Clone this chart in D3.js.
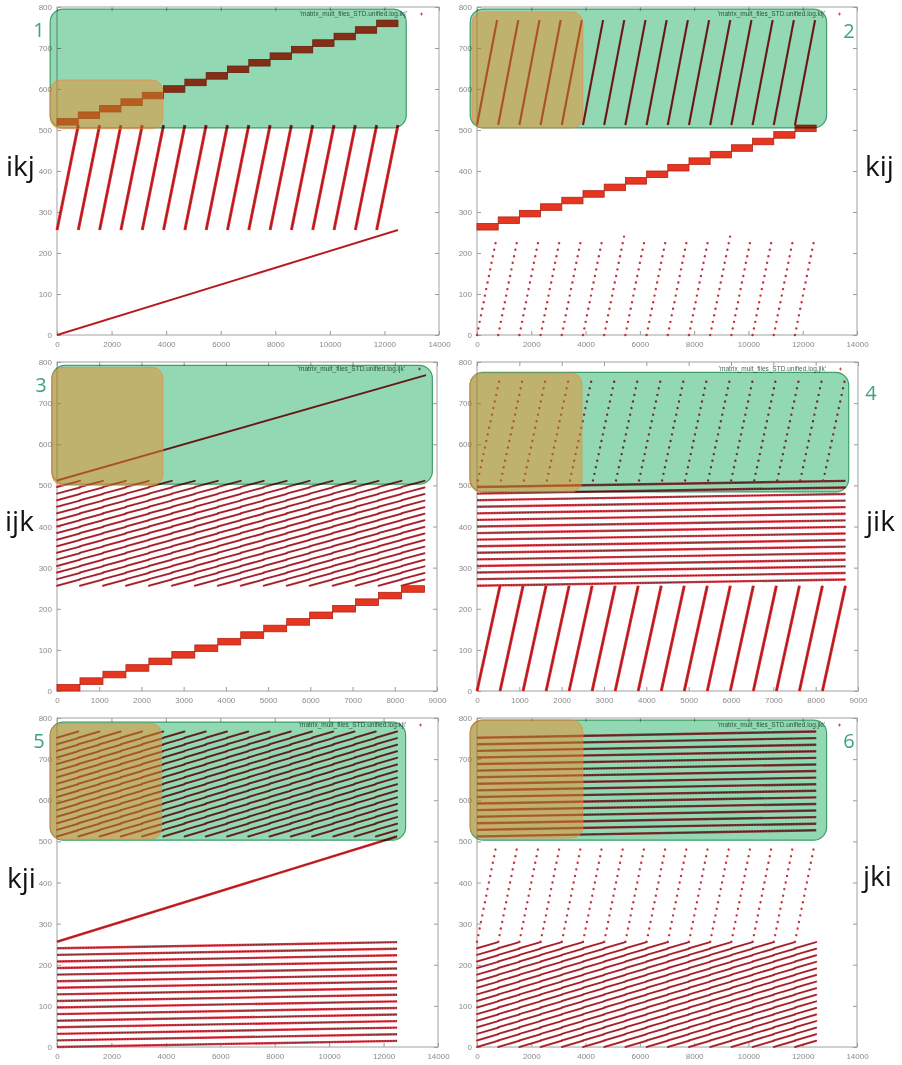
<!DOCTYPE html>
<html>
<head>
<meta charset="utf-8">
<script src="https://cdn.jsdelivr.net/npm/d3@7"></script>
<style>
  body { margin: 0; background: #fff; }
  svg { display: block; }
  .axis text { font-family: "Liberation Sans", Arial, sans-serif; font-size: 8px; fill: #8a8a8a; }
  .axis line { stroke: #9a9a9a; }
</style>
</head>
<body>
<svg id="chart" width="902" height="1065"></svg>
<script>
// loop orders and panel numbers
const panelNames = ["ikj", "kij", "ijk", "jik", "kji", "jki"];
const panelNumbers = ["1", "2", "3", "4", "5", "6"];
const xMaxes = [14000, 14000, 9000, 9000, 14000, 14000];

// tick labels
const yTicks = [0, 100, 200, 300, 400, 500, 600, 700, 800];
const xTicksWide = [0, 2000, 4000, 6000, 8000, 10000, 12000, 14000];
const xTicksNarrow = [0, 1000, 2000, 3000, 4000, 5000, 6000, 7000, 8000, 9000];

// start of each outer-loop block along the access axis
const blockStartsWide = [0, 781, 1562, 2343, 3124, 3905, 4686, 5467, 6248, 7029, 7810, 8591, 9372, 10153, 10934, 11715];
const blockStartsNarrow = [0, 544, 1088, 1632, 2176, 2720, 3264, 3808, 4352, 4896, 5440, 5984, 6528, 7072, 7616, 8160];
const blockWide = 781;
const blockNarrow = 544;
const traceEndWide = 12496;
const traceEndNarrow = 8704;

// row offsets inside one 256-address matrix
const rowOffsets = [0, 16, 32, 48, 64, 80, 96, 112, 128, 144, 160, 176, 192, 208, 224, 240];

// highlight boxes [x0, x1, y0, y1] in data units
const greenBoxes = [
  [-250, 12800, 505, 795], [-250, 12880, 505, 795], [-120, 8890, 503, 792],
  [-165, 8780, 484, 775], [-250, 12810, 503, 790], [-250, 12880, 503, 795]
];
const orangeBoxes = [
  [-250, 3880, 503, 622], [-180, 3900, 505, 788], [-120, 2510, 500, 787],
  [-165, 2480, 484, 773], [-250, 3840, 505, 787], [-250, 3900, 508, 795]
];

// layout (pixels)
const frames = [
  { left: 57, right: 439, top: 7, bottom: 335 },
  { left: 477, right: 857, top: 7, bottom: 335 },
  { left: 57, right: 437, top: 362, bottom: 691 },
  { left: 477, right: 858, top: 362, bottom: 691 },
  { left: 57, right: 438, top: 718, bottom: 1047 },
  { left: 477, right: 857, top: 718, bottom: 1047 }
];
const nameSpots = [[6, 176], [865, 176], [5, 531], [866, 531], [7, 888], [863, 886]];
const numberSpots = [[39, 37], [849, 38], [41, 392], [871, 400], [39, 748], [849, 748]];

// one short rising segment per (block, row): the dense "////" texture
function blockRows(starts, width, base) {
  let segs = [];
  starts.forEach(function(s) {
    rowOffsets.forEach(function(r) {
      segs.push([s, base + r, s + width, base + r + 15]);
    });
  });
  return segs;
}

// what each panel draws
const layers = [
  // 1 ikj
  [
    { kind: "steps", xs: blockStartsWide, w: blockWide, ys: rowOffsets.map(r => 512 + r), h: 16 },
    { kind: "solid", segs: blockStartsWide.map(s => [s, 256, s + blockWide, 512]), width: 3 },
    { kind: "solid", segs: [[0, 0, traceEndWide, 256]], width: 2 }
  ],
  // 2 kij
  [
    { kind: "solid", segs: blockStartsWide.map(s => [s, 512, s + 740, 768]), width: 2.2 },
    { kind: "steps", xs: blockStartsWide, w: blockWide, ys: rowOffsets.map(r => 256 + r), h: 16 },
    { kind: "dots", segs: blockStartsWide.map(s => [s, 0, s + 730, 240]), n: 16 }
  ],
  // 3 ijk
  [
    { kind: "solid", segs: [[0, 512, 8740, 768]], width: 2 },
    { kind: "hatch", segs: blockRows(blockStartsNarrow, blockNarrow, 256) },
    { kind: "steps", xs: blockStartsNarrow, w: blockNarrow, ys: rowOffsets, h: 16 }
  ],
  // 4 jik
  [
    { kind: "dots", segs: blockStartsNarrow.map(s => [s + 20, 512, s + 520, 752]), n: 16 },
    { kind: "rows", segs: rowOffsets.map(r => [0, 256 + r, traceEndNarrow, 271 + r]) },
    { kind: "solid", segs: blockStartsNarrow.map(s => [s, 0, s + blockNarrow, 256]), width: 3 }
  ],
  // 5 kji
  [
    { kind: "hatch", segs: blockRows(blockStartsWide, blockWide, 512) },
    { kind: "solid", segs: [[0, 256, traceEndWide, 512]], width: 2.5 },
    { kind: "rows", segs: rowOffsets.map(r => [0, r, traceEndWide, r + 15]) }
  ],
  // 6 jki
  [
    { kind: "rows", segs: rowOffsets.map(r => [0, 512 + r, traceEndWide, 527 + r]) },
    { kind: "dots", segs: blockStartsWide.map(s => [s, 256, s + 730, 496]), n: 16 },
    { kind: "hatch", segs: blockRows(blockStartsWide, blockWide, 0) }
  ]
];

const red = "#e3262c";
const darkCore = "#5e1e1e";

let svg = d3.select("#chart");

function segLines(g, segs, x, y, color, width, dash) {
  let sel = g.append("g").selectAll("line").data(segs).enter().append("line")
    .attr("x1", d => x(d[0])).attr("y1", d => y(d[1]))
    .attr("x2", d => x(d[2])).attr("y2", d => y(d[3]))
    .attr("stroke", color).attr("stroke-width", width);
  if (dash) sel.attr("stroke-dasharray", dash);
  return sel;
}

function drawLayer(g, layer, x, y) {
  if (layer.kind === "steps") {
    g.append("g").selectAll("rect").data(layer.xs).enter().append("rect")
      .attr("x", d => x(d))
      .attr("width", x(layer.w) - x(0))
      .attr("y", (d, k) => y(layer.ys[k] + layer.h))
      .attr("height", y(0) - y(layer.h))
      .attr("fill", "#e6361f")
      .attr("stroke", "#b02416")
      .attr("stroke-width", 0.8);
  } else if (layer.kind === "solid") {
    segLines(g, layer.segs, x, y, red, layer.width);
    segLines(g, layer.segs, x, y, darkCore, 0.8).attr("stroke-opacity", 0.8);
  } else if (layer.kind === "rows") {
    segLines(g, layer.segs, x, y, "#e23a48", 2.4);
    segLines(g, layer.segs, x, y, "#4a2a2a", 1, "1.6 1.2");
  } else if (layer.kind === "dots") {
    g.append("g").selectAll("line").data(layer.segs).enter().append("line")
      .attr("x1", d => x(d[0])).attr("y1", d => y(d[1]))
      .attr("x2", d => x(d[2])).attr("y2", d => y(d[3]))
      .attr("stroke", "#c8323e")
      .attr("stroke-width", 2.4)
      .attr("stroke-linecap", "round")
      .attr("stroke-dasharray", function(d) {
        let len = Math.hypot(x(d[2]) - x(d[0]), y(d[3]) - y(d[1]));
        let period = len / (layer.n - 1);
        return "0.01 " + (period - 0.01);
      });
  } else if (layer.kind === "hatch") {
    segLines(g, layer.segs, x, y, "#e2303e", 2).attr("stroke-linecap", "round");
    segLines(g, layer.segs, x, y, "#5a2a2a", 0.8).attr("stroke-linecap", "round");
  }
}

panelNames.forEach(function(name, i) {
  let box = frames[i];
  let xTicks = xMaxes[i] === 14000 ? xTicksWide : xTicksNarrow;
  let x = d3.scaleLinear().domain([0, xMaxes[i]]).range([box.left, box.right]);
  let y = d3.scaleLinear().domain([0, 800]).range([box.bottom, box.top]);
  let g = svg.append("g").attr("class", "panel");

  // AXES - gnuplot style ticks pointing inwards on all sides
  g.append("g").attr("class", "axis").attr("transform", "translate(" + box.left + ",0)")
    .call(d3.axisLeft(y).tickValues(yTicks).tickFormat(d3.format("d"))
      .tickSizeInner(-4).tickSizeOuter(0).tickPadding(5));
  g.append("g").attr("class", "axis").attr("transform", "translate(" + box.right + ",0)")
    .call(d3.axisRight(y).tickValues(yTicks).tickSizeInner(-4).tickSizeOuter(0).tickFormat(""));
  g.append("g").attr("class", "axis").attr("transform", "translate(0," + box.bottom + ")")
    .call(d3.axisBottom(x).tickValues(xTicks).tickFormat(d3.format("d"))
      .tickSizeInner(-4).tickSizeOuter(0).tickPadding(6));
  g.append("g").attr("class", "axis").attr("transform", "translate(0," + box.top + ")")
    .call(d3.axisTop(x).tickValues(xTicks).tickSizeInner(-4).tickSizeOuter(0).tickFormat(""));
  g.selectAll(".domain").remove();
  g.append("rect")
    .attr("x", box.left).attr("y", box.top)
    .attr("width", box.right - box.left).attr("height", box.bottom - box.top)
    .attr("fill", "none").attr("stroke", "#a0a0a0").attr("stroke-width", 1);

  // LEGEND (key)
  g.append("text")
    .attr("x", box.right - 32).attr("y", box.top + 9)
    .attr("text-anchor", "end")
    .attr("font-family", "Liberation Sans, Arial, sans-serif")
    .attr("font-size", 6.5)
    .attr("fill", "#4a6a5a")
    .text("'matrix_mult_files_STD.unified.log." + name + "'");
  g.append("path")
    .attr("d", "M" + (box.right - 19) + "," + (box.top + 7) + "h3M" + (box.right - 17.5) + "," + (box.top + 5.5) + "v3")
    .attr("stroke", "#c83440").attr("stroke-width", 0.8);

  // MARKS
  layers[i].forEach(function(layer) {
    drawLayer(g, layer, x, y);
  });

  // HIGHLIGHT BOXES
  let gb = greenBoxes[i];
  g.append("rect")
    .attr("x", x(gb[0])).attr("y", y(gb[3]))
    .attr("width", x(gb[1]) - x(gb[0])).attr("height", y(gb[2]) - y(gb[3]))
    .attr("rx", 13).attr("ry", 13)
    .attr("fill", "rgb(146,216,178)")
    .attr("stroke", "#3f9f6a").attr("stroke-width", 1.2)
    .style("mix-blend-mode", "multiply");
  let ob = orangeBoxes[i];
  g.append("rect")
    .attr("x", x(ob[0])).attr("y", y(ob[3]))
    .attr("width", x(ob[1]) - x(ob[0])).attr("height", y(ob[2]) - y(ob[3]))
    .attr("rx", 11).attr("ry", 11)
    .attr("fill", "rgba(236,140,42,0.5)")
    .attr("stroke", "rgba(240,130,70,0.6)").attr("stroke-width", 1);

  // LABELS
  g.append("text")
    .attr("x", numberSpots[i][0]).attr("y", numberSpots[i][1])
    .attr("text-anchor", "middle")
    .attr("font-family", "Open Sans, sans-serif")
    .attr("font-size", 20)
    .attr("fill", "#3aa57c")
    .text(panelNumbers[i]);
  g.append("text")
    .attr("x", nameSpots[i][0]).attr("y", nameSpots[i][1])
    .attr("font-family", "Open Sans, sans-serif")
    .attr("font-size", 28)
    .attr("fill", "#111")
    .text(name);
});
</script>
</body>
</html>
